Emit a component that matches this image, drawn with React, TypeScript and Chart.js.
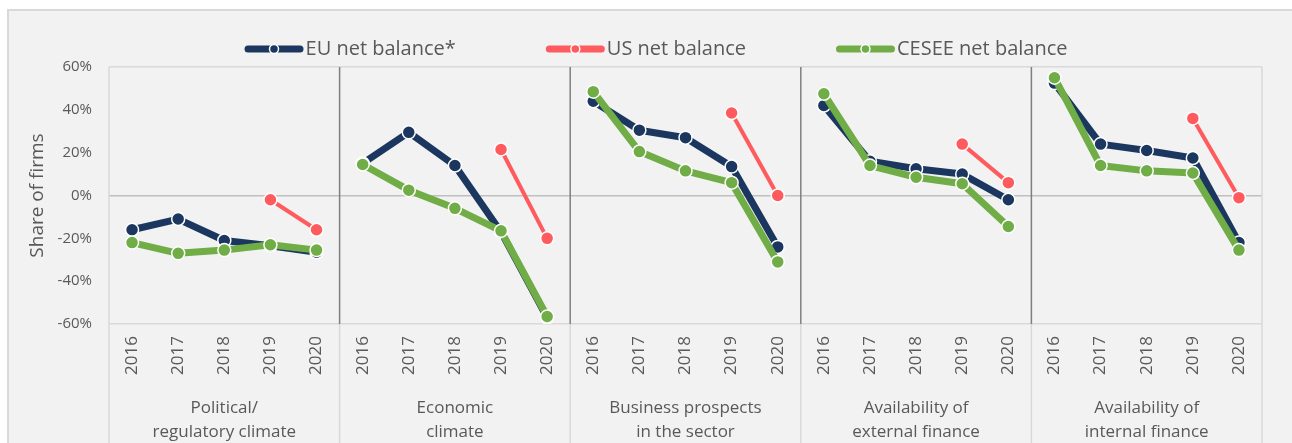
import React, { useEffect, useRef } from 'react';
import { Chart, registerables } from 'chart.js';

Chart.register(...registerables);

const years = ['2016', '2017', '2018', '2019', '2020'];
const groupLabels = [
  ['Political/', 'regulatory climate'],
  ['Economic', 'climate'],
  ['Business prospects', 'in the sector'],
  ['Availability of', 'external finance'],
  ['Availability of', 'internal finance'],
];
const categories = groupLabels.flatMap(() => years);

const euNetBalance = [
  -16, -11, -21, -23.5, -26.5,
  15, 29.5, 14, -17, -57,
  44, 30.5, 27, 13.5, -24,
  42, 16, 12.5, 10, -2,
  52.5, 24, 21, 17.5, -22,
];
const usNetBalance = [
  null, null, null, -2, -16,
  null, null, null, 21.5, -20,
  null, null, null, 38.5, 0,
  null, null, null, 24, 6,
  null, null, null, 36, -1,
];
const ceseeNetBalance = [
  -22, -27, -25.5, -23, -25.5,
  14.5, 2.5, -6, -16.5, -56.5,
  48.5, 20.5, 11.5, 6, -31,
  47.5, 14, 8.5, 5.5, -14.5,
  55, 14, 11.5, 10.5, -25.5,
];
const yTicks = [-60, -40, -20, 0, 20, 40, 60];

const FONT = '"Open Sans", "Noto Sans", sans-serif';
const TEXT = '#595959';
const EU_COLOR = '#1b375f';
const US_COLOR = '#ff5b5e';
const CESEE_COLOR = '#70ad47';

const legendPlugin = {
  id: 'customLegend',
  afterDraw(chart: any) {
    const ctx = chart.ctx;
    ctx.save();
    ctx.font = `20px ${FONT}`;
    ctx.textBaseline = 'middle';
    ctx.textAlign = 'left';
    const markerW = 59;
    const gap = 2;
    const spacing = 90;
    const items = chart.data.datasets.map((ds: any) => ({
      text: ds.label,
      color: ds.borderColor,
      w: ctx.measureText(ds.label).width,
    }));
    const total = items.reduce((s: number, it: any) => s + markerW + gap + it.w, 0) + spacing * (items.length - 1);
    let x = chart.width / 2 + 10 - total / 2;
    const y = 49;
    items.forEach((it: any) => {
      ctx.strokeStyle = it.color;
      ctx.lineWidth = 7;
      ctx.lineCap = 'round';
      ctx.beginPath();
      ctx.moveTo(x + 3.5, y);
      ctx.lineTo(x + markerW - 3.5, y);
      ctx.stroke();
      ctx.beginPath();
      ctx.arc(x + markerW / 2, y, 4.5, 0, Math.PI * 2);
      ctx.fillStyle = it.color;
      ctx.fill();
      ctx.lineWidth = 1.5;
      ctx.strokeStyle = '#ffffff';
      ctx.stroke();
      ctx.fillStyle = TEXT;
      ctx.fillText(it.text, x + markerW + gap, y);
      x += markerW + gap + it.w + spacing;
    });
    ctx.restore();
  },
};

const framePlugin = {
  id: 'groupFrame',
  beforeDatasetsDraw(chart: any) {
    const { ctx, chartArea } = chart;
    const xs = chart.scales.x;
    const bottom = chart.height;
    ctx.save();
    ctx.lineWidth = 1.5;
    ctx.strokeStyle = '#d9d9d9';
    [chartArea.left, chartArea.right].forEach((px: number) => {
      ctx.beginPath();
      ctx.moveTo(px, chartArea.top);
      ctx.lineTo(px, bottom);
      ctx.stroke();
    });
    for (let g = 1; g < groupLabels.length; g++) {
      const px = xs.getPixelForValue(g * years.length - 0.5);
      ctx.strokeStyle = '#7f7f7f';
      ctx.beginPath();
      ctx.moveTo(px, chartArea.top);
      ctx.lineTo(px, chartArea.bottom);
      ctx.stroke();
      ctx.strokeStyle = '#d9d9d9';
      ctx.beginPath();
      ctx.moveTo(px, chartArea.bottom);
      ctx.lineTo(px, bottom);
      ctx.stroke();
    }
    ctx.restore();
  },
  afterDraw(chart: any) {
    const { ctx, chartArea } = chart;
    const xs = chart.scales.x;
    ctx.save();
    ctx.font = `17px ${FONT}`;
    ctx.fillStyle = TEXT;
    ctx.textAlign = 'center';
    ctx.textBaseline = 'middle';
    groupLabels.forEach((lines, g) => {
      const cx = (xs.getPixelForValue(g * years.length) + xs.getPixelForValue(g * years.length + years.length - 1)) / 2;
      lines.forEach((line, i) => {
        ctx.fillText(line, cx, chartArea.bottom + 84 + i * 24);
      });
    });
    ctx.restore();
  },
};

export default function App() {
  const canvasRef = useRef<HTMLCanvasElement | null>(null);

  useEffect(() => {
    if (!canvasRef.current) return;
    const common = {
      borderCapStyle: 'round',
      borderJoinStyle: 'round',
      pointBorderColor: '#ffffff',
      pointBorderWidth: 1.5,
      tension: 0,
      segment: {
        borderColor: (c: any) => (c.p0DataIndex % years.length === years.length - 1 ? 'transparent' : undefined),
      },
    };
    const chart = new Chart(canvasRef.current, {
      type: 'line',
      data: {
        labels: categories,
        datasets: [
          {
            ...common,
            label: 'EU net balance*',
            data: euNetBalance,
            borderColor: EU_COLOR,
            backgroundColor: EU_COLOR,
            pointBackgroundColor: EU_COLOR,
            borderWidth: 7,
            pointRadius: 6.5,
            order: 3,
          },
          {
            ...common,
            label: 'US net balance',
            data: usNetBalance,
            borderColor: US_COLOR,
            backgroundColor: US_COLOR,
            pointBackgroundColor: US_COLOR,
            borderWidth: 4,
            pointRadius: 6.5,
            order: 1,
          },
          {
            ...common,
            label: 'CESEE net balance',
            data: ceseeNetBalance,
            borderColor: CESEE_COLOR,
            backgroundColor: CESEE_COLOR,
            pointBackgroundColor: CESEE_COLOR,
            borderWidth: 7,
            pointRadius: 6.5,
            order: 2,
          },
        ] as any,
      },
      options: {
        responsive: false,
        animation: false,
        events: [],
        layout: { padding: { top: 67, right: 30, left: 0, bottom: 0 } },
        plugins: {
          legend: { display: false },
          tooltip: { enabled: false },
        },
        scales: {
          x: {
            type: 'category',
            offset: true,
            grid: { display: false, drawTicks: false },
            border: { display: false },
            ticks: {
              autoSkip: false,
              maxRotation: 90,
              minRotation: 90,
              padding: 12,
              color: TEXT,
              font: { family: FONT, size: 17 },
            },
            afterFit: (scale: any) => {
              scale.height = 470 - 324;
            },
          },
          y: {
            min: -60,
            max: 60,
            afterBuildTicks: (scale: any) => {
              scale.ticks = yTicks.map((v) => ({ value: v }));
            },
            grid: {
              drawTicks: false,
              lineWidth: 1.5,
              color: (c: any) => {
                const v = c.tick && c.tick.value;
                if (v === 0) return '#bfbfbf';
                if (v === 60 || v === -60) return '#d9d9d9';
                return 'transparent';
              },
            },
            border: { display: false },
            ticks: {
              padding: 17,
              color: TEXT,
              font: { family: FONT, size: 15 },
              callback: (v: any) => `${v}%`,
            },
            title: {
              display: true,
              text: 'Share of firms',
              color: TEXT,
              font: { family: FONT, size: 19 },
              padding: { top: 26, bottom: 0 },
            },
            afterFit: (scale: any) => {
              scale.width = 109;
            },
          },
        },
      } as any,
      plugins: [framePlugin, legendPlugin],
    });
    return () => chart.destroy();
  }, []);

  return (
    <>
      <style>{`html,body{margin:0;overflow:hidden;}`}</style>
      <div
        style={{
          position: 'fixed',
          left: 7,
          top: 9,
          width: 1320,
          height: 520,
          background: '#f2f2f2',
          border: '2px solid #d9d9d9',
          boxSizing: 'border-box',
        }}
      />
      <canvas
        ref={canvasRef}
        width={1292}
        height={470}
        style={{ position: 'fixed', left: 0, top: 0, width: 1292, height: 470 }}
      />
    </>
  );
}
